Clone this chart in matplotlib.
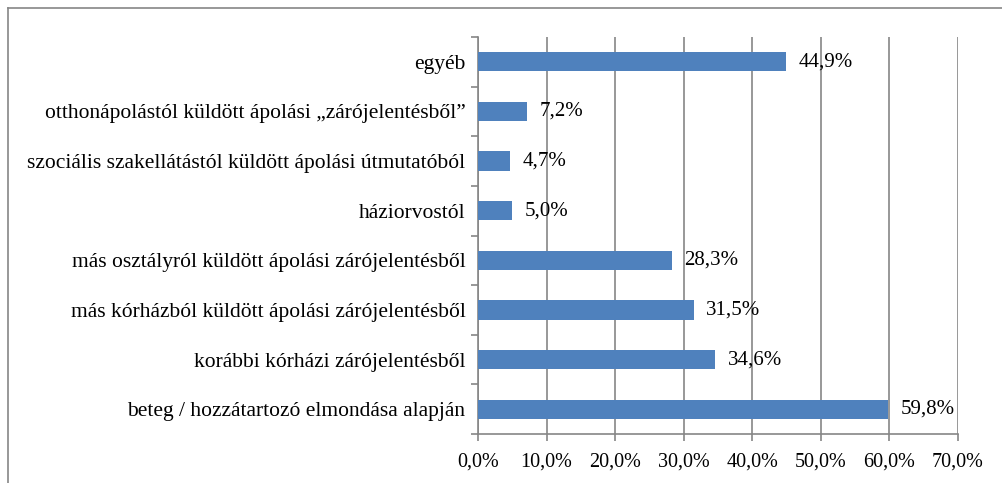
import matplotlib.pyplot as plt
from matplotlib.lines import Line2D
import numpy as np

plt.rcParams['font.family'] = ['Liberation Serif', 'DejaVu Serif']

# kategóriák alulról felfelé
kategoriak = [
    'beteg / hozzátartozó elmondása alapján',
    'korábbi kórházi zárójelentésből',
    'más kórházból küldött ápolási zárójelentésből',
    'más osztályról küldött ápolási zárójelentésből',
    'háziorvostól',
    'szociális szakellátástól küldött ápolási útmutatóból',
    'otthonápolástól küldött ápolási „zárójelentésből”',
    'egyéb',
]
ertekek = [59.8, 34.6, 31.5, 28.3, 5.0, 4.7, 7.2, 44.9]
xticks = [0, 10, 20, 30, 40, 50, 60, 70]

szurke = '#868686'

fig = plt.figure(figsize=(10.03, 4.83), dpi=100)
ax = fig.add_axes([478 / 1003, 1 - 434 / 483, 480 / 1003, 397 / 483])

y = np.arange(len(kategoriak))
ax.barh(y, ertekek, height=0.39, color='#4F81BD', zorder=3)

for yi, v in zip(y, ertekek):
    ax.text(v + 1.8, yi, ('%.1f%%' % v).replace('.', ','), va='center', ha='left',
            fontsize=15, zorder=4)

ax.set_xlim(0, 70)
ax.set_ylim(-0.5, len(kategoriak) - 0.5)
ax.set_xticks(xticks)
ax.set_xticklabels([('%.1f%%' % t).replace('.', ',') for t in xticks], fontsize=14.5)

# kategória címkék középen, osztóvonalak a határokon
ax.set_yticks(y)
ax.set_yticklabels(kategoriak, fontsize=15.5)
ax.tick_params(axis='y', length=0, pad=9)
ax.set_yticks(np.arange(-0.5, len(kategoriak)), minor=True)
ax.tick_params(axis='y', which='minor', length=5, color=szurke, width=1.2)
ax.tick_params(axis='x', length=5, color=szurke, width=1.2, pad=8)

ax.grid(axis='x', color=szurke, linewidth=1.2, zorder=0)
for s in ['top', 'right']:
    ax.spines[s].set_visible(False)
ax.spines['left'].set_color(szurke)
ax.spines['bottom'].set_color(szurke)
ax.spines['left'].set_linewidth(1.2)
ax.spines['bottom'].set_linewidth(1.2)

# diagram kerete
fig.add_artist(Line2D([8 / 1003, 1], [1 - 8 / 483, 1 - 8 / 483], color=szurke, lw=1.2,
                      transform=fig.transFigure))
fig.add_artist(Line2D([8 / 1003, 8 / 1003], [0, 1 - 8 / 483], color=szurke, lw=1.2,
                      transform=fig.transFigure))

fig.savefig('out.png', dpi=100)
